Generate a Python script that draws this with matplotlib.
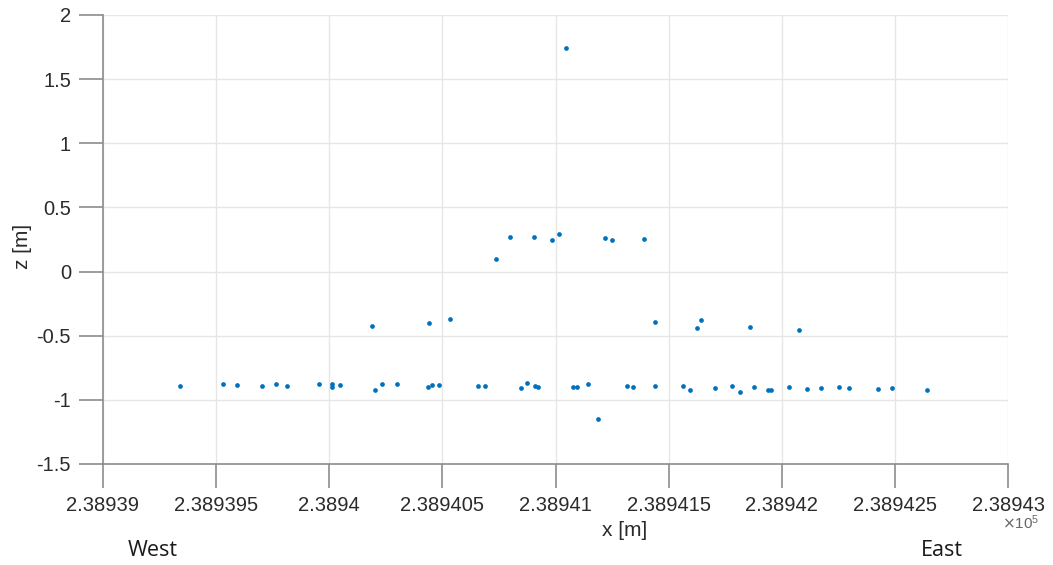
import numpy as np
import matplotlib
matplotlib.use('Agg')
import matplotlib.pyplot as plt
from matplotlib.ticker import FuncFormatter, MultipleLocator

# easting [m] and height [m] of each point
x_east = [238939.342, 238939.532, 238939.594, 238939.704, 238939.766, 238939.813,
          238939.953, 238940.014, 238940.014, 238940.048, 238940.189, 238940.204,
          238940.235, 238940.298, 238940.438, 238940.439, 238940.453, 238940.486,
          238940.532, 238940.657, 238940.688, 238940.736, 238940.798, 238940.846,
          238940.875, 238940.906, 238940.908, 238940.921, 238940.986, 238941.017,
          238941.048, 238941.079, 238941.094, 238941.142, 238941.189, 238941.220,
          238941.251, 238941.315, 238941.344, 238941.393, 238941.438, 238941.440,
          238941.564, 238941.594, 238941.625, 238941.642, 238941.705, 238941.781,
          238941.814, 238941.860, 238941.876, 238941.939, 238941.954, 238942.033,
          238942.078, 238942.110, 238942.173, 238942.252, 238942.299, 238942.424,
          238942.486, 238942.642]
z_height = [-0.889, -0.876, -0.884, -0.892, -0.876, -0.892,
            -0.873, -0.873, -0.899, -0.884, -0.426, -0.920,
            -0.878, -0.878, -0.902, -0.398, -0.886, -0.881,
            -0.367, -0.889, -0.894, 0.096, 0.267, -0.907,
            -0.871, 0.272, -0.892, -0.899, 0.246, 0.295,
            1.740, -0.902, -0.902, -0.876, -1.147, 0.262,
            0.244, -0.894, -0.902, 0.252, -0.393, -0.889,
            -0.894, -0.923, -0.442, -0.377, -0.907, -0.892,
            -0.941, -0.432, -0.902, -0.925, -0.920, -0.899,
            -0.455, -0.917, -0.910, -0.899, -0.910, -0.913,
            -0.905, -0.920]

plt.rcParams['font.family'] = ['Liberation Sans', 'DejaVu Sans']

fig = plt.figure(figsize=(10.53, 5.65), dpi=100)
ax = fig.add_axes([0.0978, 0.1788, 0.8595, 0.7947])

ax.plot(x_east, z_height, 'o', color='#0072BD', markersize=3.4, markeredgewidth=0)

ax.set_xlim(238939, 238943)
ax.set_ylim(-1.5, 2)
ax.xaxis.set_major_locator(MultipleLocator(0.5))
ax.yaxis.set_major_locator(MultipleLocator(0.5))
ax.xaxis.set_major_formatter(FuncFormatter(lambda v, p: '{:.7g}'.format(v / 1e5)))
ax.yaxis.set_major_formatter(FuncFormatter(lambda v, p: '{:g}'.format(v)))

# grid and spines
ax.grid(True, color='#e6e6e6', linewidth=1)
ax.set_axisbelow(True)
for s in ['top', 'right']:
    ax.spines[s].set_visible(False)
for s in ['left', 'bottom']:
    ax.spines[s].set_color('#8c8c8c')
    ax.spines[s].set_linewidth(1.2)
ax.tick_params(axis='x', direction='out', length=17, width=1.2, color='#8c8c8c',
               labelsize=14.5, labelcolor='#2b2b2b', pad=6)
ax.tick_params(axis='y', direction='out', length=17, width=1.2, color='#8c8c8c',
               labelsize=14.5, labelcolor='#2b2b2b', pad=6)

fig.text(23 / 1053, 1 - 246 / 565, 'z [m]', fontsize=15, color='#2b2b2b',
         rotation=90, ha='center', va='center')
fig.text(625 / 1053, 1 - 530 / 565, 'x [m]', fontsize=15, color='#2b2b2b',
         ha='center', va='center')
fig.text(1021 / 1053, 1 - 523 / 565, r'$\times\mathregular{10^{5}}$', fontsize=11,
         color='#666666', ha='center', va='center')

# orientation labels
fig.text(153 / 1053, 1 - 551 / 565, 'West', fontsize=15.5, color='#1a1a1a',
         family=['Open Sans', 'DejaVu Sans'], ha='center', va='center')
fig.text(942 / 1053, 1 - 551 / 565, 'East', fontsize=15.5, color='#1a1a1a',
         family=['Open Sans', 'DejaVu Sans'], ha='center', va='center')

fig.savefig('out.png', dpi=100, facecolor='white')
